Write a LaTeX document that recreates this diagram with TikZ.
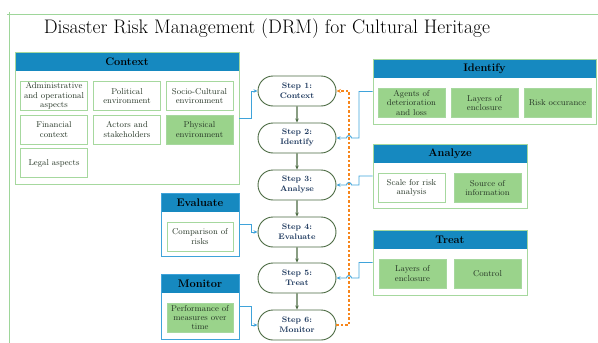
\documentclass[tikz,border=0pt]{standalone}
\usetikzlibrary{arrows.meta,calc,shapes.misc}
\definecolor{hdr}{HTML}{1689C0}
\definecolor{lgreen}{HTML}{A6D89E}
\definecolor{fgreen}{HTML}{9AD38B}
\definecolor{conn}{HTML}{3FA3DA}
\definecolor{orng}{HTML}{F7861C}
\definecolor{stepc}{HTML}{1F3A5F}
\definecolor{arrc}{HTML}{4B6A42}
\definecolor{txt}{HTML}{263626}
\definecolor{frame}{HTML}{9ED69A}
\tikzset{
  panel/.style={draw=lgreen, line width=0.9pt, inner sep=0pt},
  bpanel/.style={draw=conn, line width=0.9pt, inner sep=0pt},
  panelhdr/.style={fill=hdr, inner sep=0pt, minimum height=19pt, font=\bfseries\fontsize{11}{12}\selectfont, text=black},
  item/.style={draw=lgreen, line width=0.8pt, minimum width=67pt, minimum height=29pt, align=center, inner sep=0pt, font=\fontsize{8.5}{9.4}\selectfont, text=txt},
  itemg/.style={item, fill=fgreen},
  stepbox/.style={rounded rectangle, draw=arrc, line width=0.9pt, minimum width=80pt, minimum height=30pt, inner sep=1pt, font=\bfseries\fontsize{8}{10}\selectfont, text=stepc, align=center, fill=white},
  flow/.style={draw=arrc, line width=1.1pt, -{Stealth[length=4pt,width=3.5pt]}},
  link/.style={draw=conn, line width=0.9pt, -{Stealth[length=4pt,width=3.5pt]}},
  back/.style={draw=orng, line width=1.1pt, dash pattern=on 2.5pt off 2pt, -{Stealth[length=4.5pt,width=4pt]}},
}
\begin{document}
\begin{tikzpicture}[x=1pt,y=-1pt]
\useasboundingbox (0,0) rectangle (598,343);
% frame
\draw[frame, line width=0.7pt] (7,14) -- (598,14);
\draw[frame, line width=0.7pt] (9,12) -- (9,343);
% title
\node[font=\fontsize{19.6}{22}\selectfont, text=black] (title) at (267,29) {Disaster Risk Management (DRM) for Cultural Heritage};

% Context panel
\node[panelhdr, minimum width=224pt] (ctxh) at (127,61.5) {Context};
\node[panel, minimum width=224pt, minimum height=132pt] (ctx) at (127,118) {};
\node[item] (c1) at (54,96) {Administrative\\and operational\\aspects};
\node[item] (c2) at (127,96) {Political\\environment};
\node[item] (c3) at (199.5,96) {Socio-Cultural\\environment};
\node[item] (c4) at (54,129.5) {Financial\\context};
\node[item] (c5) at (127,129.5) {Actors and\\stakeholders};
\node[itemg] (c6) at (199.5,129.5) {Physical\\environment};
\node[item] (c7) at (54,163) {Legal aspects};

% Identify panel
\node[panelhdr, minimum width=223pt] (idfh) at (484.5,68.5) {Identify};
\node[panel, minimum width=223pt, minimum height=65pt] (idf) at (484.5,91.5) {};
\node[itemg] (i1) at (411.5,103) {Agents of\\deterioration\\and loss};
\node[itemg] (i2) at (484.5,103) {Layers of\\enclosure};
\node[itemg] (i3) at (557.5,103) {Risk occurance};

% Analyze panel
\node[panelhdr, minimum width=154pt] (anlh) at (450,153.5) {Analyze};
\node[panel, minimum width=154pt, minimum height=64pt] (anl) at (450,176) {};
\node[item] (a1) at (411.5,188) {Scale for risk\\analysis};
\node[itemg] (a2) at (487.5,188) {Source of\\information};

% Treat panel
\node[panelhdr, minimum width=154pt] (trth) at (450,239.5) {Treat};
\node[panel, minimum width=154pt, minimum height=65pt] (trt) at (450,262.5) {};
\node[itemg] (t1) at (412.5,273.5) {Layers of\\enclosure};
\node[itemg] (t2) at (487.5,273.5) {Control};

% Evaluate panel
\node[panelhdr, minimum width=78pt] (evlh) at (200,202.5) {Evaluate};
\node[bpanel, minimum width=78pt, minimum height=63pt] (evl) at (200,224.5) {};
\node[item, minimum width=66pt] (e1) at (200,236.5) {Comparison of\\risks};

% Monitor panel
\node[panelhdr, minimum width=78pt] (monh) at (200,283.5) {Monitor};
\node[bpanel, minimum width=78pt, minimum height=65pt] (mon) at (200,306.5) {};
\node[itemg, minimum width=66pt] (m1) at (200,317.5) {Performance of\\measures over\\time};

% Steps
\node[stepbox] (s1) at (297,91) {Step 1:\\Context};
\node[stepbox] (s2) at (297,138) {Step 2:\\Identify};
\node[stepbox] (s3) at (297,185) {Step 3:\\Analyse};
\node[stepbox] (s4) at (297,232) {Step 4:\\Evaluate};
\node[stepbox] (s5) at (297,278) {Step 5:\\Treat};
\node[stepbox] (s6) at (297,325) {Step 6:\\Monitor};

\draw[flow] (s1) -- (s2);
\draw[flow] (s2) -- (s3);
\draw[flow] (s3) -- (s4);
\draw[flow] (s4) -- (s5);
\draw[flow] (s5) -- (s6);

% feedback dashed line
\coordinate (dx) at (349,0);
\draw[back] (s6.east) -- (s6.east -| dx) -- (s1.east -| dx) -- (s1.east);

% connectors
\coordinate (rx) at (359,0);
\coordinate (lx) at (251,0);
\draw[link] (ctx.east) -- (ctx.east -| lx) |- (s1.west);
\draw[link] (evl.east) -- (evl.east -| lx) |- (s4.west);
\draw[link] (mon.east) -- (mon.east -| lx) |- (s6.west);
\draw[link] (idf.west) -- (idf.west -| rx) -- (s2.east -| rx) -- ($(s2.east -| dx)+(2.5,0)$) arc[start angle=0,end angle=-180,radius=2.5] -- (s2.east);
\draw[link] (anl.west) -- (anl.west -| rx) -- (s3.east -| rx) -- ($(s3.east -| dx)+(2.5,0)$) arc[start angle=0,end angle=-180,radius=2.5] -- (s3.east);
\draw[link] (trt.west) -- (trt.west -| rx) -- (s5.east -| rx) -- ($(s5.east -| dx)+(2.5,0)$) arc[start angle=0,end angle=-180,radius=2.5] -- (s5.east);
\end{tikzpicture}
\end{document}
